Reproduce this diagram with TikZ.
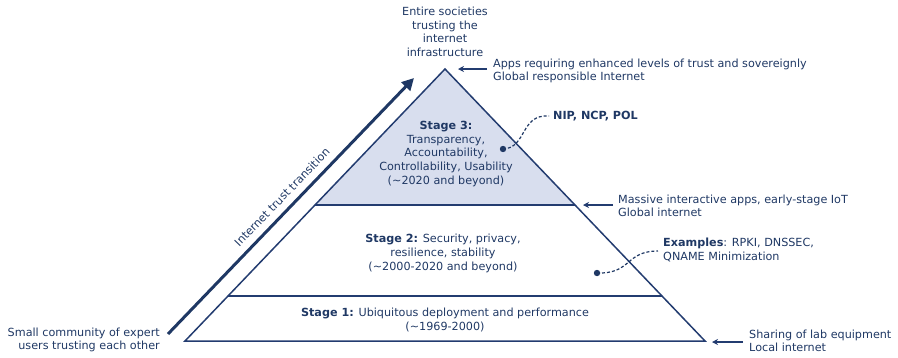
\documentclass[tikz,border=0pt]{standalone}
\usepackage{fontspec}
\setmainfont{DejaVu Sans}
\usetikzlibrary{arrows.meta}
\definecolor{navy}{RGB}{31,56,100}
\definecolor{lineblue}{RGB}{35,60,112}
\definecolor{fillthree}{RGB}{216,222,238}
\begin{document}
\begin{tikzpicture}[x=1pt,y=-1pt,
  txt/.style={font=\fontsize{11.2}{13.6}\selectfont, text=navy, inner sep=0pt},
  pyr/.style={draw=lineblue, line width=1.5pt, line join=miter},
  pointer/.style={draw=lineblue, line width=1.4pt, -{Stealth[length=6pt,width=6pt]}},
  mainarrow/.style={draw=navy, line width=3pt, -{Triangle[length=12pt,width=12pt]}},
  dashcurve/.style={draw=navy, line width=1.2pt, dash pattern=on 3pt off 2pt},
  dot/.style={fill=navy}]
\useasboundingbox (0,0) rectangle (898,357);

% pyramid
\coordinate (apex) at (445,69);
\coordinate (bl) at (185,341);
\coordinate (br) at (705,341);
\coordinate (l3) at (315,205);
\coordinate (r3) at (575,205);
\coordinate (l2) at (228,296);
\coordinate (r2) at (662,296);
\fill[fillthree] (apex) -- (l3) -- (r3) -- cycle;
\draw[pyr] (apex) -- (bl) -- (br) -- cycle;
\draw[pyr] (l3) -- (r3);
\draw[pyr] (l2) -- (r2);

% main arrow
\coordinate (ma) at (168,334);
\coordinate (mb) at (414,78);
\draw[mainarrow] (ma) -- (mb);
\node[txt, rotate=46] (trans) at (282,197) {Internet trust transition};

% stage texts
\node[txt, align=center] (s3) at (446,154) {{\bfseries Stage 3:}\\Transparency,\\Accountability,\\Controllability, Usability\\(\textasciitilde2020 and beyond)};
\node[txt, align=center] (s2) at (443,253.5) {{\bfseries Stage 2:} Security, privacy,\\resilience, stability\\(\textasciitilde2000-2020 and beyond)};
\node[txt, align=center] (s1) at (445,320) {{\bfseries Stage 1:} Ubiquitous deployment and performance\\(\textasciitilde1969-2000)};

% top and left labels
\node[txt, align=center] (top) at (445,32) {Entire societies\\trusting the\\internet\\infrastructure};
\node[txt, align=right, anchor=east] (left) at (160,340) {Small community of expert\\users trusting each other};

% right labels
\node[txt, align=left, anchor=west] (r1) at (493,71) {Apps requiring enhanced levels of trust and sovereignly\\Global responsible Internet};
\node[txt, align=left, anchor=west] (r2t) at (618,206) {Massive interactive apps, early-stage IoT\\Global internet};
\node[txt, align=left, anchor=west] (r3t) at (749,341) {Sharing of lab equipment\\Local internet};
\coordinate (p1) at (458,69);
\coordinate (p2) at (583,205);
\coordinate (p3) at (712,342);
\draw[pointer] ([xshift=-6pt]r1.west |- p1) -- (p1);
\draw[pointer] ([xshift=-5pt]r2t.west |- p2) -- (p2);
\draw[pointer] ([xshift=-6pt]r3t.west |- p3) -- (p3);

% annotations
\node[txt, anchor=west, font=\fontsize{11.2}{13.6}\selectfont\bfseries] (nip) at (553,116) {NIP, NCP, POL};
\node[txt, align=left, anchor=west] (ex) at (663,250) {{\bfseries Examples}: RPKI, DNSSEC,\\QNAME Minimization};
\coordinate (d1) at (503,149);
\coordinate (d2) at (597,273);
\fill[dot] (d1) circle (3.2pt);
\fill[dot] (d2) circle (3.2pt);
\draw[dashcurve] (d1) .. controls (527,148) and (520,114) .. ([xshift=-4pt]nip.west);
\draw[dashcurve] (d2) .. controls (632,274) and (625,251) .. ([xshift=-5pt]ex.west |- 0,251);
\end{tikzpicture}
\end{document}
